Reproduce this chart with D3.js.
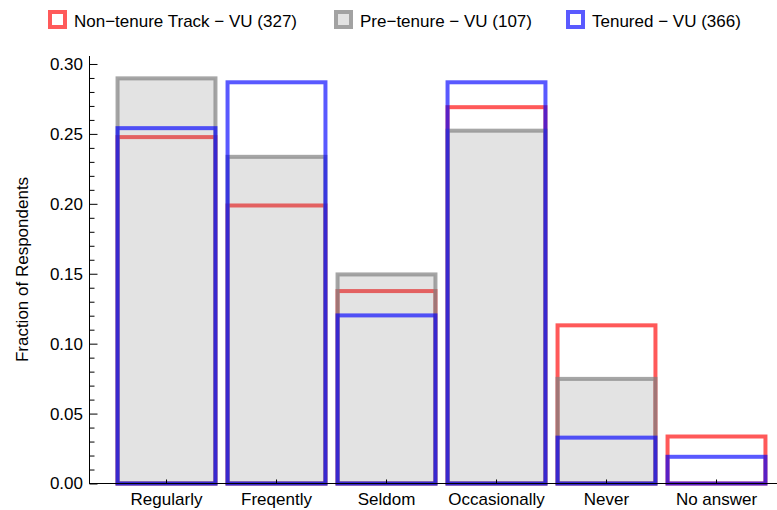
<!DOCTYPE html>
<html>
<head>
<meta charset="utf-8">
<script src="https://cdn.jsdelivr.net/npm/d3@7"></script>
<style>
  html, body { margin: 0; padding: 0; background: #fff; }
  svg { display: block; font-family: "Liberation Sans", Arial, sans-serif; }
</style>
</head>
<body>
<svg id="chart" width="777" height="510"></svg>
<script>
const categories = ["Regularly", "Freqently", "Seldom", "Occasionally", "Never", "No answer"];
const nonTenure = [0.2477, 0.1988, 0.1376, 0.2691, 0.1131, 0.0336];   // 327 respondents
const preTenure = [0.2897, 0.2336, 0.1495, 0.2523, 0.0748, 0.0];      // 107 respondents
const tenured   = [0.2541, 0.2869, 0.1202, 0.2869, 0.0328, 0.0191];   // 366 respondents
const seriesNames = ["Non\u2212tenure Track \u2212 VU (327)", "Pre\u2212tenure \u2212 VU (107)", "Tenured \u2212 VU (366)"];
const yTicks = [0, 0.05, 0.10, 0.15, 0.20, 0.25, 0.30];

const svg = d3.select("#chart");
const FONT = 17;

const x = d3.scaleBand().domain(categories).range([111.5, 771.5]).paddingInner(0.11).paddingOuter(0.055);
const y = d3.scaleLinear().domain([0, 0.3057]).range([483.5, 56]);

const series = [
  { name: seriesNames[0], values: nonTenure, stroke: "rgba(255,0,0,0.65)", fill: "none", legFill: "#fff", legStroke: "rgb(255,90,90)" },
  { name: seriesNames[1], values: preTenure, stroke: "rgba(128,128,128,0.7)", fill: "rgba(128,128,128,0.22)", legFill: "#e2e2e2", legStroke: "rgb(162,162,162)" },
  { name: seriesNames[2], values: tenured, stroke: "rgba(0,0,255,0.65)", fill: "none", legFill: "#fff", legStroke: "rgb(90,90,255)" }
];

// bars
series.forEach(s => {
  svg.append("g").selectAll("rect")
    .data(categories.map((c, i) => ({ c, v: s.values[i] })))
    .join("rect")
    .attr("x", d => x(d.c))
    .attr("width", x.bandwidth())
    .attr("y", d => y(d.v))
    .attr("height", d => y(0) - y(d.v))
    .attr("fill", s.fill)
    .attr("stroke", s.stroke)
    .attr("stroke-width", 4)
    .attr("stroke-linejoin", "miter");
});

// y axis (major ticks inward)
const yAxis = svg.append("g").attr("transform", "translate(89.5,0)")
  .call(d3.axisLeft(y).tickValues(yTicks).tickFormat(d3.format(".2f")).tickSize(-8).tickPadding(6.5));
yAxis.select(".domain").remove();
// minor ticks
svg.append("g").attr("transform", "translate(89.5,0)")
  .call(d3.axisLeft(y).tickValues(d3.range(0, 0.301, 0.01).filter(v => Math.abs(v * 20 - Math.round(v * 20)) > 1e-6)).tickSize(-5).tickFormat(""))
  .select(".domain").remove();
svg.append("line").attr("x1", 89.5).attr("x2", 89.5).attr("y1", 56).attr("y2", 483.5).attr("stroke", "#000");
svg.selectAll(".tick line").attr("stroke", "#000");
yAxis.selectAll("text").attr("font-size", FONT).attr("fill", "#000").attr("font-family", "Liberation Sans, Arial, sans-serif");

// x axis
const xAxis = svg.append("g").attr("transform", "translate(0,483.5)")
  .call(d3.axisBottom(x).tickSize(-4).tickPadding(9));
xAxis.select(".domain").remove();
svg.append("line").attr("x1", 89).attr("x2", 777).attr("y1", 483.5).attr("y2", 483.5).attr("stroke", "#000");
xAxis.selectAll("line").attr("stroke", "#000");
xAxis.selectAll("text").attr("font-size", FONT).attr("fill", "#000").attr("font-family", "Liberation Sans, Arial, sans-serif");

// y label
svg.append("text")
  .attr("transform", "translate(28,269.5) rotate(-90)")
  .attr("text-anchor", "middle")
  .attr("font-size", FONT)
  .attr("fill", "#000")
  .text("Fraction of Respondents");

// legend
const legX = [48, 334, 566];
series.forEach((s, i) => {
  const g = svg.append("g").attr("transform", `translate(${legX[i]},10)`);
  g.append("rect").attr("x", 2).attr("y", 2).attr("width", 15).attr("height", 15)
    .attr("fill", s.legFill).attr("stroke", s.legStroke).attr("stroke-width", 4);
  g.append("text").attr("x", 26).attr("y", 16.5).attr("font-size", FONT).attr("fill", "#000").text(s.name);
});
</script>
</body>
</html>
